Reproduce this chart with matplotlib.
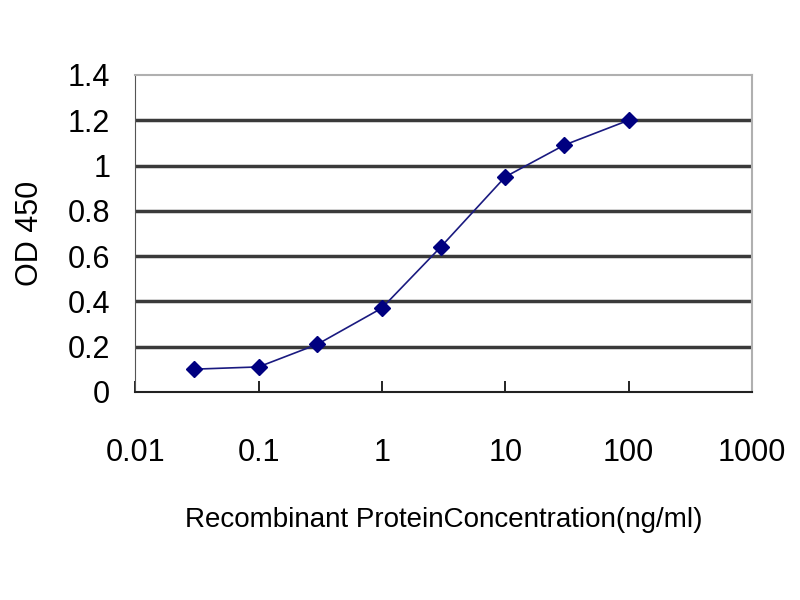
import matplotlib
matplotlib.use('Agg')
import matplotlib.pyplot as plt
from matplotlib.ticker import FixedLocator, FixedFormatter, NullLocator

concentration = [0.03, 0.1, 0.3, 1, 3, 10, 30, 100]
od450 = [0.10, 0.11, 0.21, 0.37, 0.64, 0.95, 1.09, 1.20]
x_ticks = [0.01, 0.1, 1, 10, 100, 1000]
x_labels = ['0.01', '0.1', '1', '10', '100', '1000']
y_ticks = [0, 0.2, 0.4, 0.6, 0.8, 1.0, 1.2, 1.4]
y_labels = ['0', '0.2', '0.4', '0.6', '0.8', '1', '1.2', '1.4']

plt.rcParams['font.family'] = ['Liberation Sans', 'DejaVu Sans']

fig = plt.figure(figsize=(8, 6), dpi=100)
ax = fig.add_axes([0.169, 0.347, 0.771, 0.528])

for y in y_ticks[1:-1]:
    ax.axhline(y, color='#3a3a3a', lw=2.5, zorder=1)

ax.plot(concentration, od450, '-', color='#1a1a80', lw=1.2, zorder=2)
ax.plot(concentration, od450, 'D', color='#000080', markersize=8, zorder=3)

ax.set_xscale('log')
ax.set_xlim(0.01, 1000)
ax.set_ylim(0, 1.4)
ax.xaxis.set_major_locator(FixedLocator(x_ticks))
ax.xaxis.set_major_formatter(FixedFormatter(x_labels))
ax.xaxis.set_minor_locator(NullLocator())
ax.yaxis.set_major_locator(FixedLocator(y_ticks))
ax.yaxis.set_major_formatter(FixedFormatter(y_labels))

ax.tick_params(axis='x', direction='in', length=8, width=1.2, labelsize=22, pad=33)
ax.tick_params(axis='y', length=0, labelsize=22, pad=18)

for side in ['top', 'right']:
    ax.spines[side].set_color('#b0b0b0')
    ax.spines[side].set_linewidth(1.5)
ax.spines['left'].set_color('#555555')
ax.spines['bottom'].set_color('#222222')
ax.spines['bottom'].set_linewidth(1.5)

ax.set_ylabel('OD 450', fontsize=22, labelpad=16)
ax.set_xlabel('Recombinant ProteinConcentration(ng/ml)', fontsize=20, labelpad=28)

fig.savefig('out.png', dpi=100)
